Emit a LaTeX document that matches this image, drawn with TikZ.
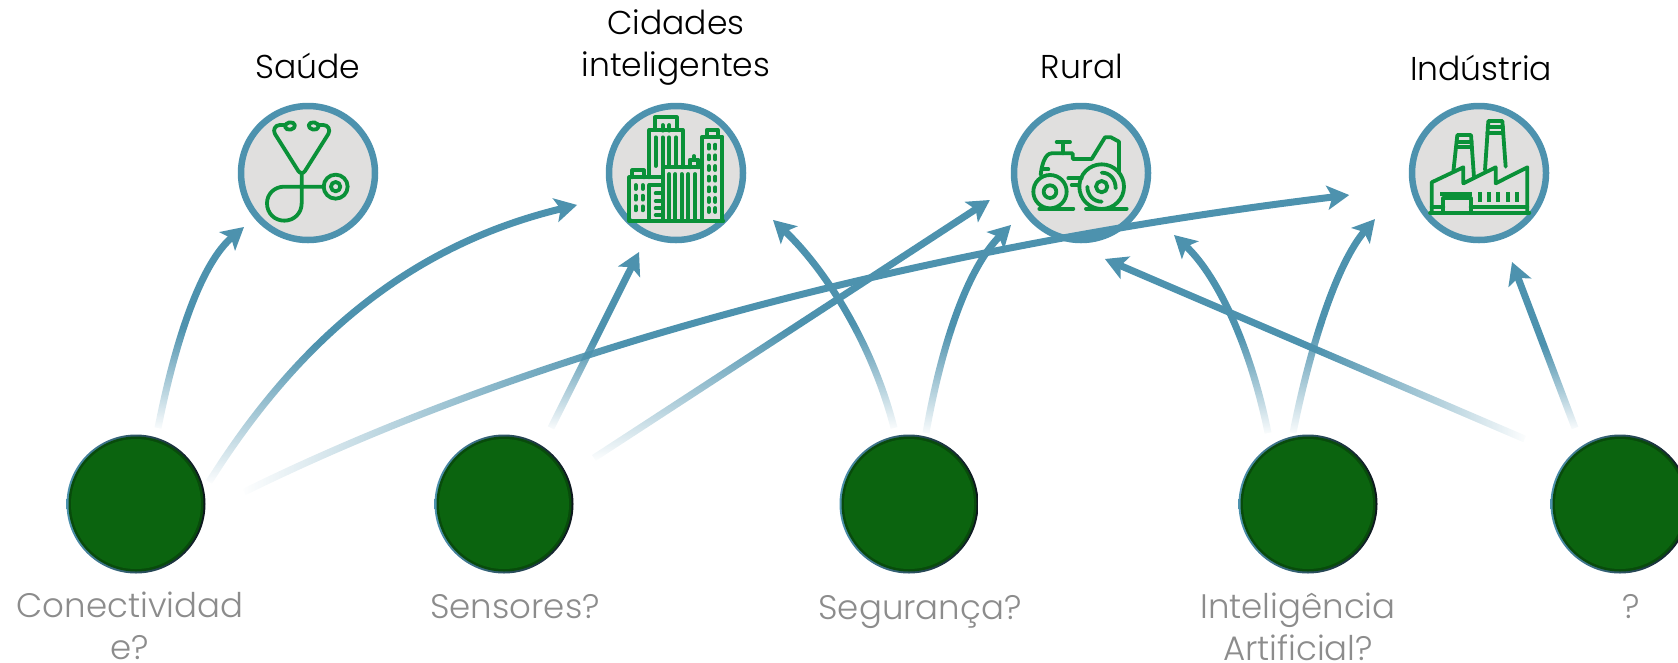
\documentclass[tikz,border=0pt]{standalone}
\usepackage{fontspec}
\setmainfont{Poppins Light}
\newfontfamily\lightfont{Poppins Light}
\usetikzlibrary{arrows.meta,fadings}
\definecolor{ringblue}{HTML}{4D92AE}
\definecolor{iconfill}{HTML}{E0DFDE}
\definecolor{icongreen}{HTML}{0A9138}
\definecolor{darkgreen}{HTML}{0B640F}
\definecolor{greytext}{HTML}{8C8C8C}
\pgfdeclareverticalshading{shadeN}{100bp}{color(0bp)=(transparent!100); color(25bp)=(transparent!100); color(50bp)=(transparent!0); color(100bp)=(transparent!0)}
\pgfdeclarefading{fadeN}{\pgfuseshading{shadeN}}
\pgfdeclarehorizontalshading{shadeE}{100bp}{color(0bp)=(transparent!100); color(25bp)=(transparent!100); color(42bp)=(transparent!0); color(100bp)=(transparent!0)}
\pgfdeclarefading{fadeE}{\pgfuseshading{shadeE}}
\pgfdeclarehorizontalshading{shadeW}{100bp}{color(0bp)=(transparent!0); color(50bp)=(transparent!0); color(75bp)=(transparent!100); color(100bp)=(transparent!100)}
\pgfdeclarefading{fadeW}{\pgfuseshading{shadeW}}
\tikzset{
  sector/.style={circle,draw=ringblue,line width=6.5pt,fill=iconfill,minimum size=134pt,inner sep=0pt},
  tech/.style={circle,minimum size=139pt,inner sep=0pt,shade,shading angle=135,left color=ringblue,right color=black!85!ringblue},
  techedge/.style={circle,minimum size=135pt,inner sep=0pt,fill=darkgreen!75!black},
  techin/.style={circle,minimum size=130pt,inner sep=0pt,fill=darkgreen},
  conn/.style={draw=ringblue,line width=7pt,-{Stealth[length=22pt,width=24pt,inset=5pt]}},
  fup/.style={conn,path fading=fadeN},
  fright/.style={conn,path fading=fadeE},
  fleft/.style={conn,path fading=fadeW},
  head/.style={font=\fontsize{33}{42}\selectfont,text=black,align=center,inner sep=0pt},
  tag/.style={font=\lightfont\fontsize{34}{42}\selectfont,text=greytext,align=center,inner sep=0pt},
  ic/.style={draw=icongreen,line width=3.8pt,line join=round,line cap=round},
  icon/.style={x=0.3333pt,y=-0.3333pt},
}
\begin{document}
\begin{tikzpicture}[x=1pt,y=-1pt]
\useasboundingbox (0,0) rectangle (1678,662);
\node[sector] (saude) at (308,173) {};
\node[sector] (cidades) at (676,173) {};
\node[sector] (rural) at (1081,173) {};
\node[sector] (industria) at (1479,173) {};
\node[tech] (t1) at (136,504) {};
\node[tech] (t2) at (504,504) {};
\node[tech] (t3) at (909,504) {};
\node[tech] (t4) at (1308,504) {};
\node[tech] (t5) at (1620,504) {};
\foreach \t in {t1,t2,t3,t4,t5} {\node[techedge] at (\t) {}; \node[techin] at (\t) {};}
% stethoscope
\begin{scope}[shift={(220,90)},icon]
\draw[ic] (195,105) -- (180,105) .. controls (165,105) and (158,120) .. (165,132) -- (235,243) .. controls (240,251) and (250,251) .. (255,243) -- (325,132) .. controls (332,120) and (325,105) .. (310,105) -- (295,105);
\draw[ic,rotate around={10:(210,108)}] (210,108) ellipse [x radius=15,y radius=11];
\draw[ic,rotate around={-10:(281,108)}] (281,108) ellipse [x radius=15,y radius=11];
\draw[ic] (245,250) -- (245,340) .. controls (245,370) and (222,392) .. (193,392) .. controls (164,392) and (141,370) .. (141,340) .. controls (141,311) and (164,290) .. (193,290) -- (312,290);
\draw[ic] (347,290) circle [radius=36];
\draw[ic] (347,290) circle [radius=14];
\end{scope}
% city
\begin{scope}[shift={(590,90)},icon]
\draw[ic] (195,120) -- (195,82) -- (260,82) -- (260,120);
\draw[ic] (178,262) -- (178,120) -- (278,120) -- (278,232);
\foreach \x in {197,218,237,258} \draw[ic] (\x,142) -- (\x,228);
\foreach \x in {218,238} \draw[ic] (\x,105) -- (\x,122);
\draw[ic] (220,392) -- (220,232) -- (333,232);
\foreach \x in {238,256,275,295,315} \draw[ic] (\x,252) -- (\x,385);
\draw[ic] (300,232) -- (300,209) -- (325,209) -- (325,232);
\draw[ic] (312,198) -- (312,209);
\draw[ic] (337,392) -- (337,140) -- (397,140) -- (397,392);
\draw[ic] (350,140) -- (350,120) -- (383,120) -- (383,140);
\foreach \y in {170,202,234,266,298,330,360} \foreach \x in {356,376} \draw[ic] (\x,\y-6) -- (\x,\y+6);
\draw[ic] (118,392) -- (118,262) -- (218,262);
\draw[ic] (127,262) -- (127,241) -- (162,241) -- (162,262);
\foreach \y in {291,323,355} \foreach \x in {137,158} \draw[ic] (\x,\y-6) -- (\x,\y+6);
\draw[ic] (178,392) -- (178,285) -- (218,285);
\foreach \y in {310,333,355,375} \draw[ic] (197,\y) -- (215,\y);
\draw[ic] (118,393) -- (400,393);
\end{scope}
% tractor
\begin{scope}[shift={(1000,90)},icon]
\draw[ic] (305,290) circle [radius=67];
\draw[ic] (305,290) circle [radius=17];
\draw[ic] (305,248) .. controls (330,248) and (347,268) .. (347,295);
\draw[ic] (262,290) .. controls (262,315) and (280,335) .. (305,335);
\draw[ic] (150,305) circle [radius=50];
\draw[ic] (150,305) circle [radius=19];
\draw[ic] (118,356) -- (220,356);
\draw[ic] (258,356) -- (380,356);
\draw[ic] (122,255) .. controls (125,225) and (135,190) .. (155,190) -- (218,190) -- (218,207) -- (275,207) -- (315,142) -- (333,142) -- (357,155) -- (357,250);
\draw[ic] (170,156) -- (210,156);
\draw[ic] (190,156) -- (190,190);
\draw[ic] (125,238) -- (145,238);
\draw[ic] (205,265) -- (245,265);
\draw[ic] (215,285) -- (235,285);
\end{scope}
% factory
\begin{scope}[shift={(1390,90)},icon]
\draw[ic] (190,245) -- (202,135) -- (243,135) -- (252,262);
\draw[ic] (200,155) -- (245,155);
\draw[ic] (198,172) -- (246,172);
\draw[ic] (285,240) -- (295,93) -- (337,93) -- (347,230);
\draw[ic] (293,112) -- (339,112);
\draw[ic] (292,130) -- (340,130);
\draw[ic] (125,368) -- (125,277) -- (220,232) -- (220,280) -- (317,232) -- (317,280) -- (412,232) -- (412,368);
\draw[ic] (120,368) -- (418,368);
\draw[ic,line width=4pt,line cap=butt] (150,311) -- (245,311);
\draw[ic] (160,368) -- (160,325) -- (242,325) -- (242,368);
\draw[ic] (125,352) -- (160,352);
\draw[ic] (242,350) -- (412,350);
\foreach \x in {270,296,324,354,381} \draw[ic,line width=4pt,line cap=butt] (\x,307) -- (\x,335);
\end{scope}
% connectors
\coordinate (s1) at (158,428);
\coordinate (e1) at (244,227);
\coordinate (s2) at (209,482);
\coordinate (e2) at (577,205);
\coordinate (s3) at (245,492);
\coordinate (e3) at (1352,195);
\coordinate (s4) at (551,428);
\coordinate (e4) at (639,252);
\coordinate (s5) at (594,458);
\coordinate (e5) at (990,200);
\coordinate (s6) at (894,428);
\coordinate (e6) at (773,220);
\coordinate (s7) at (926,433);
\coordinate (e7) at (1011,225);
\coordinate (s8) at (1268,433);
\coordinate (e8) at (1174,235);
\coordinate (s9) at (1293,433);
\coordinate (e9) at (1375,219);
\coordinate (s10) at (1525,439);
\coordinate (e10) at (1105,259);
\coordinate (s11) at (1575,428);
\coordinate (e11) at (1512,262);
\path[fup] (s6) .. controls (872,342) and (824,268) .. (e6);
\path[fup] (s7) .. controls (942,342) and (968,268) .. (e7);
\path[fup] (s8) .. controls (1252,353) and (1220,278) .. (e8);
\path[fup] (s9) .. controls (1311,342) and (1338,262) .. (e9);
\path[fup] (s1) .. controls (177,332) and (203,262) .. (e1);
\path[fup] (s2) .. controls (310,321) and (428,241) .. (e2);
\path[fup] (s4) -- (e4);
\path[fup] (s5) -- (e5);
\path[fleft] (s10) -- (e10);
\path[fup] (s11) -- (e11);
\path[fright] (s3) .. controls (570,332) and (980,240) .. (e3);
% labels
\node[head] (l1) at (308,66) {Saúde};
\node[head] (l2) at (676,48) {Cidades\\inteligentes};
\node[head] (l3) at (1082,66) {Rural};
\node[head] (l4) at (1481,68) {Indústria};
\node[tag] (l5) at (130,626) {Conectividad\\e?};
\node[tag] (l6) at (515,607) {Sensores?};
\node[tag] (l7) at (920,612) {Segurança?};
\node[tag] (l8) at (1298,627) {Inteligência\\Artificial?};
\node[tag] (l9) at (1631,607) {?};
\end{tikzpicture}
\end{document}
